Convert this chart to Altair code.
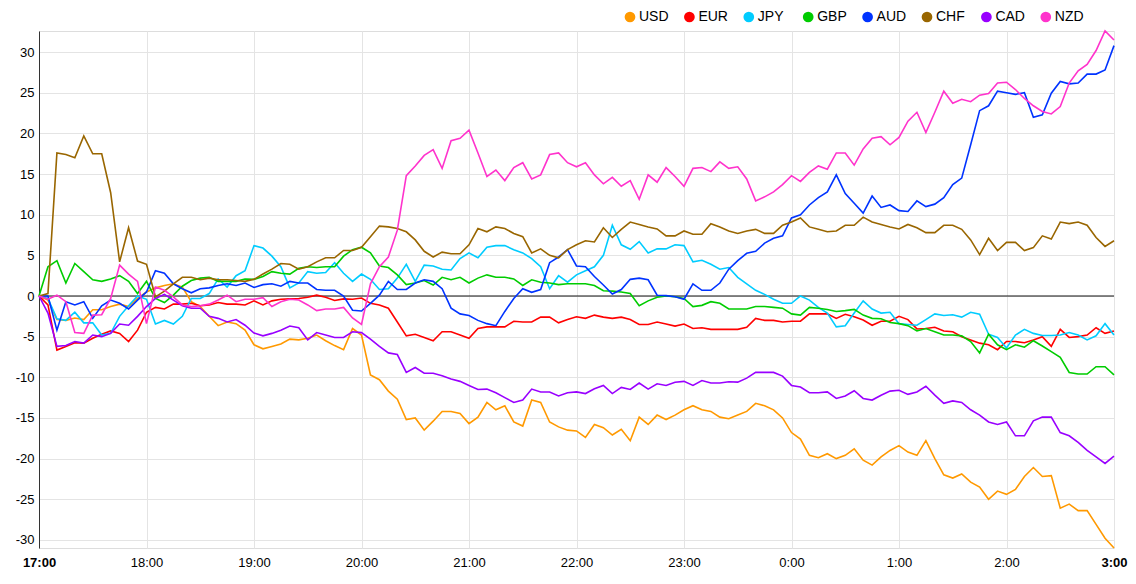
import altair as alt
import pandas as pd

series_names = ["USD", "EUR", "JPY", "GBP", "AUD", "CHF", "CAD", "NZD"]
series_colors = ["#ff9900", "#ff0000", "#00ccff", "#00cc00", "#0033ff", "#996600", "#9900ff", "#ff33cc"]

USD = [0, -0.5, -2.9, -3.0, -2.7, -2.9, -1.7, -1.7, -1.3, -1.0, -1.3, -0.3, 0.5, 1.0, 1.3, 1.5, 1.1, -0.7, -1.3, -2.5,
       -3.65, -3.2, -3.4, -4.2, -6.0, -6.5, -6.2, -5.9, -5.3, -5.4, -5.2, -4.8, -5.5, -6.1, -6.6, -4.0, -4.8, -9.7, -10.3, -11.7,
       -12.7, -15.2, -15.0, -16.5, -15.4, -14.2, -14.2, -14.45, -15.7, -14.9, -13.1, -14.0, -13.5, -15.5, -16.0, -12.8, -13.1, -15.5, -16.1, -16.5,
       -16.6, -17.4, -15.8, -16.2, -17.1, -16.4, -17.8, -14.9, -15.8, -14.65, -15.2, -14.65, -14.0, -13.5, -14.0, -14.2, -14.9, -15.1, -14.65, -14.2,
       -13.2, -13.5, -14.0, -15.0, -16.8, -17.6, -19.6, -19.9, -19.4, -20.0, -19.6, -18.8, -20.2, -20.8, -19.8, -19.0, -18.4, -19.2, -19.6, -17.8,
       -20.0, -22.0, -22.4, -21.9, -22.9, -23.5, -25.0, -24.0, -24.4, -23.8, -22.2, -21.1, -22.2, -22.1, -26.1, -25.6, -26.4, -26.4, -28.1, -29.8,
       -31.0]
EUR = [0, -1.1, -6.65, -6.2, -5.75, -5.8, -5.2, -4.7, -4.3, -4.6, -5.6, -4.2, -2.0, -1.4, -1.6, -1.0, -1.0, -0.9, -1.2, -1.1,
       -0.8, -1.0, -1.0, -1.1, -0.6, -1.1, -0.6, -0.4, -0.35, -0.3, -0.15, 0.1, -0.15, -0.55, -0.35, -0.4, -0.25, -0.9, -1.1, -1.5,
       -3.2, -4.9, -4.7, -5.1, -5.5, -4.4, -4.4, -4.8, -5.2, -4.0, -3.8, -3.8, -3.8, -3.1, -3.2, -3.2, -2.6, -2.6, -3.3, -2.9,
       -2.55, -2.75, -2.35, -2.6, -2.75, -2.6, -2.9, -3.5, -3.5, -3.2, -3.45, -3.7, -3.45, -4.0, -3.9, -4.1, -4.1, -4.1, -4.1, -3.85,
       -2.75, -3.0, -3.0, -3.2, -3.1, -3.1, -2.2, -2.2, -2.2, -2.75, -2.25, -2.55, -2.95, -3.6, -3.1, -3.1, -2.5, -2.9, -4.05, -4.0,
       -3.85, -4.3, -4.4, -5.0, -5.4, -5.8, -6.0, -6.6, -5.6, -5.6, -5.75, -5.4, -5.0, -6.2, -4.1, -5.1, -5.0, -4.8, -3.9, -4.6,
       -4.3]
JPY = [0, -0.3, -2.8, -3.0, -2.0, -3.3, -3.3, -4.8, -4.6, -2.5, -1.2, 0.0, -0.4, -3.45, -3.0, -3.45, -2.5, -0.3, -0.3, 0.3,
       2.1, 1.1, 2.5, 3.1, 6.2, 5.9, 4.9, 3.6, 1.0, 1.6, 3.0, 2.8, 2.9, 4.1, 2.8, 1.8, 2.7, 2.05, 0.8, 0.9,
       2.2, 3.9, 1.8, 3.8, 3.7, 3.3, 3.2, 4.6, 5.3, 4.7, 6.0, 6.2, 6.2, 5.7, 5.3, 4.6, 3.6, 0.9, 2.5, 1.7,
       2.6, 3.1, 3.6, 5.0, 8.7, 6.3, 5.75, 6.7, 5.3, 5.8, 5.8, 6.3, 6.2, 4.2, 4.4, 3.9, 3.3, 3.5, 2.3, 1.5,
       0.7, 0.2, -0.4, -0.9, -0.9, 0.0, -0.5, -1.4, -2.1, -3.8, -3.65, -2.1, -0.6, -1.6, -2.1, -2.0, -3.4, -3.5, -3.6, -2.9,
       -2.2, -2.4, -2.3, -2.6, -2.0, -2.25, -4.7, -5.1, -6.4, -4.8, -4.1, -4.6, -4.85, -4.85, -4.8, -4.5, -4.8, -5.4, -4.9, -3.4,
       -4.8]
GBP = [0, 3.6, 4.35, 1.6, 4.0, 3.0, 2.0, 1.8, 2.1, 2.5, 1.8, 0.3, 1.8, -0.3, -0.8, 0.1, 1.2, 1.9, 2.2, 2.3,
       1.8, 1.8, 1.8, 2.1, 2.05, 2.4, 3.0, 2.8, 2.7, 3.4, 3.6, 3.5, 3.6, 3.6, 4.9, 5.7, 6.0, 5.3, 3.7, 3.5,
       2.6, 1.4, 1.6, 1.9, 1.35, 2.3, 2.0, 2.3, 1.6, 2.2, 2.6, 2.3, 2.3, 2.1, 1.3, 2.0, 1.7, 1.6, 1.4, 1.5,
       1.5, 1.5, 1.3, 0.65, 0.6, 0.5, 0.3, -1.2, -0.6, -0.15, 0.0, -0.1, -0.3, -1.3, -1.15, -0.7, -0.9, -1.6, -1.6, -1.6,
       -1.3, -1.3, -1.4, -1.5, -2.2, -2.35, -1.4, -1.5, -1.65, -1.9, -1.8, -1.65, -2.35, -2.75, -2.8, -3.25, -3.4, -3.65, -4.3, -4.0,
       -4.4, -4.8, -4.8, -4.9, -5.6, -7.0, -4.7, -6.0, -6.6, -6.0, -6.3, -5.5, -6.15, -6.85, -7.55, -9.4, -9.6, -9.6, -8.7, -8.7,
       -9.7]
AUD = [0, 0.0, -4.2, -0.7, -1.1, -0.7, -2.75, -1.2, -0.5, -0.9, -1.6, -0.5, 0.5, 3.1, 2.8, 1.5, 0.9, 0.4, 0.9, 1.0,
       1.3, 1.5, 1.3, 1.6, 1.05, 1.4, 1.5, 1.2, 1.8, 1.6, 1.6, 0.8, 0.7, 0.7, 0.0, -1.75, -1.85, -0.9, 0.1, 1.8,
       0.8, 0.8, 1.6, 2.0, 1.8, 0.9, -1.5, -2.2, -2.4, -3.0, -3.4, -3.65, -1.9, -0.3, 0.9, 0.45, 0.8, 4.1, 4.8, 5.7,
       3.7, 3.6, 2.4, 1.35, 0.25, 0.8, 2.05, 2.2, 2.0, 0.1, 0.05, -0.1, -0.4, 1.5, 0.7, 0.7, 1.6, 3.3, 4.35, 5.25,
       5.5, 6.5, 7.1, 7.4, 9.6, 10.0, 11.2, 12.1, 12.8, 14.9, 12.6, 11.4, 10.2, 12.3, 10.9, 11.2, 10.5, 10.4, 11.7, 11.0,
       11.3, 12.1, 13.7, 14.5, 18.6, 22.8, 23.4, 25.2, 25.0, 24.8, 25.0, 22.0, 22.3, 24.95, 26.4, 26.1, 26.2, 27.3, 27.3, 27.8,
       30.8]
CHF = [0, 0.3, 17.6, 17.4, 17.0, 19.7, 17.5, 17.5, 12.7, 4.2, 8.4, 4.3, 3.9, -0.1, 0.6, 1.5, 2.3, 2.3, 2.0, 2.2,
       2.0, 2.0, 1.9, 1.8, 2.05, 2.7, 3.3, 4.0, 3.9, 3.3, 3.6, 4.2, 4.7, 4.7, 5.6, 5.6, 6.0, 7.3, 8.6, 8.5,
       8.3, 7.9, 6.9, 5.5, 4.8, 5.4, 5.2, 5.2, 6.3, 8.3, 7.9, 8.5, 8.3, 7.7, 7.3, 5.3, 5.8, 5.0, 4.7, 5.7,
       6.3, 6.8, 6.65, 8.4, 7.2, 8.2, 9.1, 8.8, 8.5, 8.25, 7.4, 7.4, 8.0, 7.6, 7.6, 8.9, 8.5, 8.0, 7.7, 8.0,
       8.2, 7.7, 7.7, 8.7, 9.1, 9.6, 8.5, 8.2, 7.9, 8.0, 8.7, 8.7, 9.7, 9.1, 8.8, 8.5, 8.25, 8.8, 8.4, 7.8,
       7.8, 8.7, 8.7, 8.2, 6.9, 5.1, 7.1, 5.6, 6.6, 6.6, 5.6, 5.95, 7.4, 7.0, 9.1, 8.9, 9.1, 8.7, 7.2, 6.1,
       6.8]
CAD = [0, -2.1, -6.2, -6.1, -5.6, -5.8, -4.8, -5.0, -4.6, -3.45, -3.6, -2.5, -1.3, -0.3, 0.2, -0.5, -1.2, -1.5, -1.5, -2.5,
       -2.75, -3.2, -2.9, -3.6, -4.55, -4.9, -4.6, -4.2, -3.7, -3.9, -5.4, -4.5, -4.8, -5.1, -5.1, -4.4, -4.5, -5.3, -6.2, -7.0,
       -7.2, -9.4, -8.8, -9.5, -9.5, -9.8, -10.2, -10.5, -11.0, -11.5, -11.45, -11.9, -12.5, -13.1, -12.8, -11.45, -11.8, -11.8, -12.3, -11.9,
       -11.8, -12.0, -11.4, -11.0, -12.0, -11.25, -11.5, -10.7, -11.45, -10.8, -11.0, -10.6, -10.5, -11.0, -10.4, -10.7, -10.7, -10.55, -10.6, -10.1,
       -9.4, -9.4, -9.4, -9.85, -11.0, -11.2, -11.9, -11.9, -11.8, -12.6, -12.3, -11.65, -12.6, -12.8, -12.2, -11.7, -11.6, -12.1, -11.8, -11.1,
       -12.2, -13.2, -12.9, -13.1, -14.0, -14.65, -15.5, -15.8, -15.5, -17.2, -17.2, -15.35, -14.9, -14.9, -16.8, -17.2, -18.0, -19.0, -19.8, -20.6,
       -19.7]
NZD = [0, -0.4, 0.1, -0.7, -4.5, -4.6, -2.35, -2.3, -0.3, 3.8, 2.7, 1.8, -3.4, 1.1, 0.7, -0.1, -1.1, -1.3, -1.2, -1.0,
       -0.5, 0.1, -0.7, -0.4, -0.4, -0.2, -1.3, -0.7, -0.4, -0.5, -1.1, -1.8, -1.6, -1.6, -1.4, -2.7, -3.5, 1.5, 3.6, 4.8,
       8.1, 14.8, 16.0, 17.3, 18.0, 15.7, 19.1, 19.4, 20.4, 17.6, 14.7, 15.5, 14.2, 15.8, 16.4, 14.4, 14.9, 17.4, 17.6, 16.4,
       15.9, 16.4, 14.9, 13.8, 14.6, 13.5, 14.2, 11.9, 14.9, 14.0, 15.8, 14.7, 13.5, 15.7, 15.8, 15.3, 16.5, 15.7, 15.9, 14.4,
       11.7, 12.2, 12.8, 13.7, 14.8, 14.1, 15.2, 16.0, 15.6, 17.6, 17.6, 16.1, 18.1, 19.4, 19.6, 18.6, 19.5, 21.5, 22.6, 20.1,
       22.6, 25.2, 23.7, 24.2, 23.9, 24.7, 24.9, 26.2, 26.3, 25.4, 24.3, 23.4, 22.7, 22.4, 23.3, 26.2, 27.7, 28.5, 30.2, 32.6,
       31.5]

y_ticks = [-30, -25, -20, -15, -10, -5, 0, 5, 10, 15, 20, 25, 30]
# minutes after 17:00 for each hourly tick (17:00 ... 3:00)
x_ticks = [0, 60, 120, 180, 240, 300, 360, 420, 480, 540, 600]
minutes = list(range(0, 601, 5))

rows = []
for name, vals in zip(series_names, [USD, EUR, JPY, GBP, AUD, CHF, CAD, NZD]):
    for m, v in zip(minutes, vals):
        rows.append({"minute": m, "currency": name, "value": v})
df = pd.DataFrame(rows)

# the line colour scale uses an alphabetical domain so its (hidden) legend is not merged with the shown one
color_of = dict(zip(series_names, series_colors))
stroke_domain = sorted(series_names)
stroke_range = [color_of[n] for n in stroke_domain]

FONT = "Liberation Sans, Arial, sans-serif"
GRID = "#e4e4e4"

x_enc = alt.X(
    "minute:Q",
    scale=alt.Scale(domain=[0, 600], nice=False, zero=False),
    axis=alt.Axis(
        title=None, values=x_ticks,
        labelExpr="((17 + datum.value / 60) % 24) + ':00'",
        domain=False, ticks=False, labelPadding=8,
        labelFlush=False, labelOverlap=False,
        labelFontSize=13, labelColor="#000", labelFont=FONT,
        labelFontWeight={"expr": "datum.value === 0 || datum.value === 600 ? 'bold' : 'normal'"},
        grid=True, gridColor=GRID, gridWidth=1,
    ),
)
y_enc = alt.Y(
    "value:Q",
    scale=alt.Scale(domain=[-31.0, 32.6], nice=False, zero=False),
    axis=alt.Axis(
        title=None, values=y_ticks, ticks=False, labelPadding=5,
        labelExpr="'' + datum.value",
        domain=True, domainColor="#333", domainWidth=1,
        labelFontSize=13, labelColor="#000", labelFont=FONT,
        grid=True, gridColor=GRID, gridWidth=1,
    ),
)

lines = alt.Chart(df).mark_line(strokeWidth=1.6).encode(
    x=x_enc,
    y=y_enc,
    stroke=alt.Stroke("currency:N", scale=alt.Scale(domain=stroke_domain, range=stroke_range), legend=None),
    detail="currency:N",
)

# invisible points only used to provide the filled-circle legend
legend_pts = alt.Chart(df).mark_point(filled=True, shape="circle", opacity=0, size=1).encode(
    x="minute:Q",
    y="value:Q",
    fill=alt.Fill(
        "currency:N",
        scale=alt.Scale(domain=series_names, range=series_colors),
        legend=alt.Legend(
            title=None, orient="none", legendX=584, legendY=-21,
            direction="horizontal", columns=8, gridAlign="all",
            symbolType="circle", symbolSize=115, symbolStrokeWidth=0, symbolOpacity=1,
            labelFontSize=14, labelFont=FONT, labelColor="#000", labelOffset=2,
            columnPadding=13.4, padding=0,
        ),
    ),
)

zero = alt.Chart(pd.DataFrame({"v": [0]})).mark_rule(color="#111", strokeWidth=1).encode(y="v:Q")

chart = alt.layer(zero, lines, legend_pts).properties(
    width=1075, height=517,
    autosize=alt.AutoSizeParams(type="none"),
    padding={"left": 31, "top": 23, "right": 14, "bottom": 30},
).configure_view(strokeWidth=0).configure(font=FONT)

chart.save("out.html", embed_options={"renderer": "svg", "actions": False})
